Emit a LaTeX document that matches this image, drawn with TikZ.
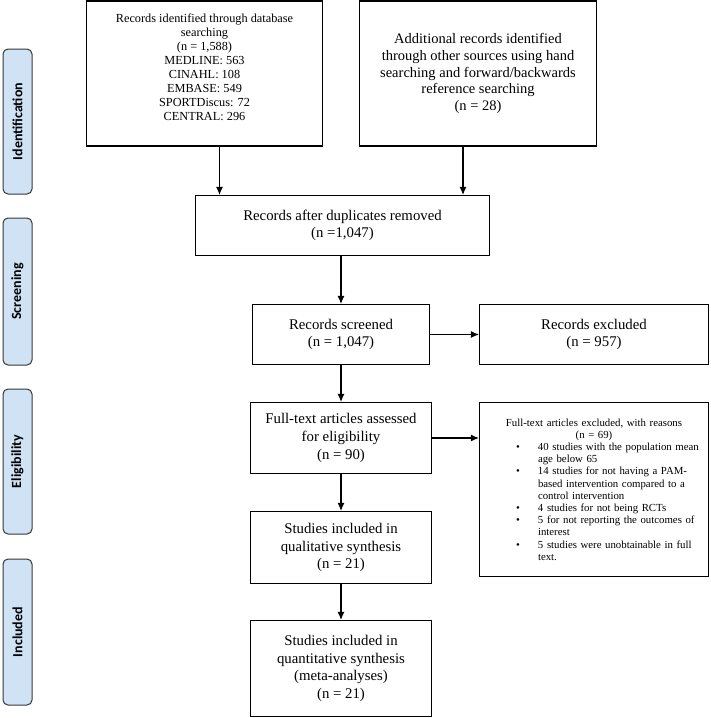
\documentclass[tikz,border=0pt]{standalone}
\usepackage{fontspec}
\setmainfont{Liberation Serif}
\newfontfamily\stagefont{Carlito}
\usetikzlibrary{arrows.meta}

\definecolor{stageblue}{RGB}{208,227,245}
\definecolor{stageedge}{RGB}{55,55,55}

% bullet line with hanging indent for the exclusion reasons
\newcommand{\reason}[1]{\par\hangindent=51pt\hangafter=1\noindent\hspace*{29pt}\makebox[22pt][l]{\textbullet}#1}

\begin{document}
\begin{tikzpicture}[x=1pt,y=-1pt,
box/.style={draw=black,line width=1.1pt,align=center,inner sep=4pt},
bigtext/.style={font=\fontsize{14.8}{17.6}\selectfont},
stage/.style={draw=stageedge,fill=stageblue,rounded corners=5pt,line width=1pt,
  rotate=90,minimum height=29pt,inner sep=0pt,
  font=\stagefont\bfseries\fontsize{14}{16}\selectfont},
flow/.style={-{Latex[length=8pt,width=7pt]},line width=1.1pt}]

\useasboundingbox (0,0) rectangle (710,718);

% stage labels on the left
\foreach \name/\y/\h in {Identification/121.5/145,Screening/291.5/147,
                         Eligibility/461.5/145,Included/632/146}
  \node[stage,minimum width=\h pt] (stage-\name) at (17.5,\y) {\name};

% identification
\node[box,minimum width=236pt,minimum height=145pt,
      font=\fontsize{12.3}{14}\selectfont] (dbase) at (204.5,73.5)
  {Records identified through database\\searching\\(n = 1,588)\\MEDLINE: 563\\
   CINAHL: 108\\EMBASE: 549\\SPORTDiscus: 72\\CENTRAL: 296\\[-2pt]};
\node[box,minimum width=237pt,minimum height=145pt,
      font=\fontsize{14.5}{16.7}\selectfont] (other) at (478,73.5)
  {Additional records identified\\through other sources using hand\\
   searching and forward/backwards\\reference searching\\(n = 28)};

% screening
\node[box,bigtext,minimum width=294pt,minimum height=60pt] (dupl) at (342.5,225.5)
  {Records after duplicates removed\\(n =1,047)};
\node[box,bigtext,minimum width=177pt,minimum height=60pt] (screen) at (341,334.5)
  {Records screened\\(n = 1,047)};
\node[box,bigtext,minimum width=229pt,minimum height=60pt] (excl) at (594,334.5)
  {Records excluded\\(n = 957)};

% eligibility
\node[box,bigtext,minimum width=181pt,minimum height=71pt] (full) at (341,438)
  {Full-text articles assessed\\for eligibility\\(n = 90)};
\node[box,minimum width=229pt,minimum height=174pt,text width=214pt,align=left,
      font=\fontsize{10.8}{12.2}\selectfont] (reasons) at (594,489.5)
  {\centering Full-text articles excluded, with reasons\\(n = 69)\par
   \raggedright
   \reason{40 studies with the population mean age below 65}
   \reason{14 studies for not having a PAM-\allowbreak based intervention compared to a control intervention}
   \reason{4 studies for not being RCTs}
   \reason{5 for not reporting the outcomes of interest}
   \reason{5 studies were unobtainable in full text.}\par\vspace{11pt}};

% included
\node[box,bigtext,minimum width=181pt,minimum height=72pt] (quali) at (341,547.5)
  {Studies included in\\qualitative synthesis\\(n = 21)};
\node[box,bigtext,minimum width=181pt,minimum height=96pt] (quanti) at (341,668.5)
  {Studies included in\\quantitative synthesis\\(meta-analyses)\\(n = 21)};

% connectors
\draw[flow] ([xshift=15pt]dbase.south) -- ([xshift=15pt]dbase.south |- dupl.north);
\draw[flow] ([xshift=-15pt]other.south) -- ([xshift=-15pt]other.south |- dupl.north);
\draw[flow] (dupl.south -| screen.north) -- (screen.north);
\draw[flow] (screen.east) -- (excl.west);
\draw[flow] (screen.south) -- (full.north);
\draw[flow] (full.east) -- (full.east -| reasons.west);
\draw[flow] (full.south) -- (quali.north);
\draw[flow] (quali.south) -- (quanti.north);
\end{tikzpicture}
\end{document}
